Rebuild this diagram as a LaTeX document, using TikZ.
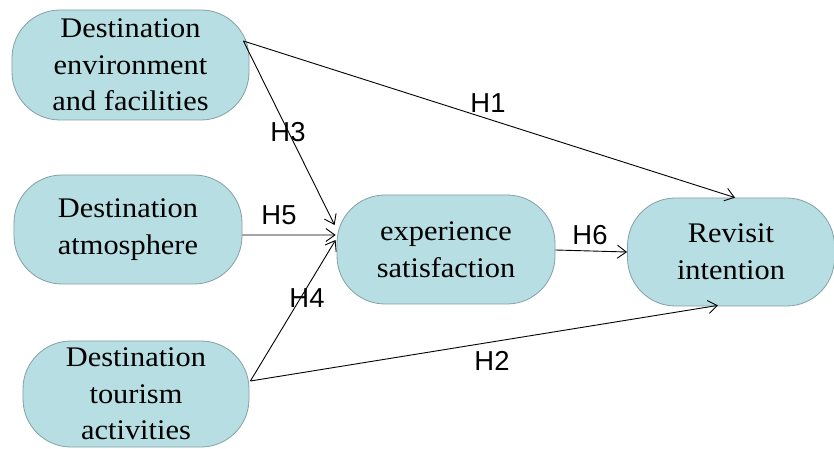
\documentclass[tikz,border=0pt]{standalone}
\usepackage{fontspec}
\setmainfont{Liberation Serif}[FakeStretch=1.07]
\newfontfamily\hfont{Liberation Sans}
\usetikzlibrary{arrows.meta,calc}
\definecolor{boxfill}{RGB}{183,222,226}
\definecolor{boxline}{RGB}{130,160,165}
\tikzset{
  pill/.style={draw=boxline, fill=boxfill, line width=0.8bp, rounded corners=48bp,
    minimum width=#1, align=center, inner sep=0pt,
    font=\fontsize{28.5}{36.7}\selectfont},
  conn/.style={draw=black, line width=0.9bp, -{Straight Barb[length=9bp,width=13bp]}},
  hlab/.style={font=\hfont\fontsize{27.5}{30}\selectfont, inner sep=0pt}
}
\begin{document}
\begin{tikzpicture}[x=1bp,y=-1bp]
\useasboundingbox (0,0) rectangle (834,449);
\node[pill=237bp, minimum height=110bp] (A) at (130.5,65) {Destination\\environment\\and facilities};
\node[pill=228bp, minimum height=109bp] (B) at (128,229.5) {Destination\\atmosphere};
\node[pill=226bp, minimum height=106bp] (C) at (136,394) {Destination\\tourism\\activities};
\node[pill=218bp, minimum height=109bp] (D) at (446,249.5) {experience\\satisfaction};
\node[pill=207bp, minimum height=108bp] (E) at (731,252) {Revisit\\intention};

\coordinate (a1) at ($(A.east)+(-6,-24)$);
\coordinate (c1) at ($(C.east)+(1,-13)$);
\coordinate (d3) at ($(D.west)+(-2,-24.5)$);
\coordinate (d5) at ($(D.west)+(-1,-14.5)$);
\coordinate (d4) at ($(D.west)+(-1,-9.5)$);
\coordinate (e1) at ($(E.north)+(4,0)$);
\coordinate (e2) at ($(E.south)+(-13,-1)$);
\coordinate (b1) at ($(B.east)+(0,5.5)$);
\coordinate (dd) at ($(D.east)+(0,0.5)$);
\coordinate (ee) at ($(E.west)+(0,0)$);

\draw[conn] (a1) -- (e1);
\draw[conn] (a1) -- (d3);
\draw[conn] (b1) -- (d5);
\draw[conn] (c1) -- (d4);
\draw[conn] (c1) -- (e2);
\draw[conn] (dd) -- (ee);

\node[hlab] (h1) at (488,103) {H1};
\node[hlab] (h3) at (288,132) {H3};
\node[hlab] (h5) at (279,215) {H5};
\node[hlab] (h4) at (307,298) {H4};
\node[hlab] (h6) at (590,235) {H6};
\node[hlab] (h2) at (492,361) {H2};
\end{tikzpicture}
\end{document}
